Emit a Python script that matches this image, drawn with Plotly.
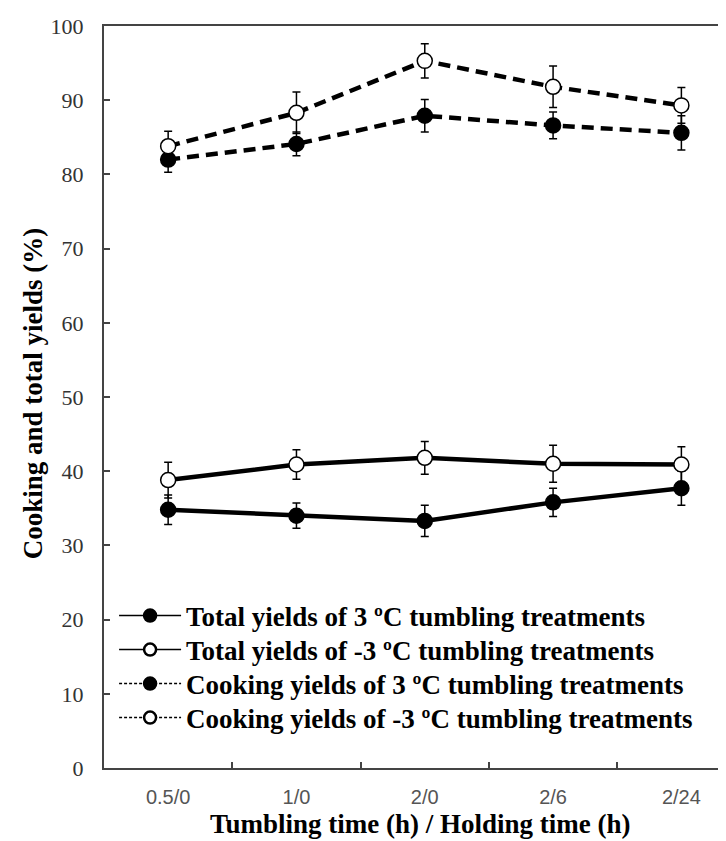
import plotly.graph_objects as go

categories = ["0.5/0", "1/0", "2/0", "2/6", "2/24"]

total_3 = [34.8, 34.0, 33.3, 35.8, 37.7]
total_3_err = [2.0, 1.7, 2.1, 1.9, 2.3]
total_m3 = [38.8, 40.9, 41.8, 41.0, 40.9]
total_m3_err = [2.4, 2.0, 2.2, 2.5, 2.4]
cook_3 = [82.0, 84.1, 87.9, 86.6, 85.6]
cook_3_err = [1.7, 1.6, 2.2, 1.8, 2.3]
cook_m3 = [83.8, 88.3, 95.3, 91.8, 89.3]
cook_m3_err = [2.0, 2.8, 2.3, 2.8, 2.4]

names = [
    "Total yields of 3 \u00baC tumbling treatments",
    "Total yields of -3 \u00baC tumbling treatments",
    "Cooking yields of 3 \u00baC tumbling treatments",
    "Cooking yields of -3 \u00baC tumbling treatments",
]

series = [
    (total_3, total_3_err, "black", "solid"),
    (total_m3, total_m3_err, "white", "solid"),
    (cook_3, cook_3_err, "black", "12px,7px"),
    (cook_m3, cook_m3_err, "white", "12px,7px"),
]

fig = go.Figure()
for vals, errs, fill, dash in series:
    fig.add_trace(go.Scatter(
        x=categories, y=vals, mode="lines+markers", showlegend=False,
        line=dict(color="black", width=4.5, dash=dash),
        marker=dict(symbol="circle", size=15, color=fill, line=dict(color="black", width=1.5)),
        error_y=dict(type="data", array=errs, visible=True, color="black", thickness=1.5, width=4),
    ))

legend_ids = ["legend", "legend2", "legend3", "legend4"]
legend_dash = ["solid", "solid", "3px,2px", "3px,2px"]
for name, (vals, errs, fill, dash), ld, lid in zip(names, series, legend_dash, legend_ids):
    fig.add_trace(go.Scatter(
        x=[None], y=[None], mode="lines+markers", name=name, legend=lid,
        line=dict(color="black", width=1.5, dash=ld),
        marker=dict(symbol="circle", size=12, color=fill, line=dict(color="black", width=2.5)),
    ))

legend_font = dict(family="Liberation Serif", size=27, color="black", weight="bold")
legend_y = [0.2049, 0.159, 0.1132, 0.0674]
legend_layout = {}
for lid, ly in zip(legend_ids, legend_y):
    legend_layout[lid] = dict(
        x=0.016, y=ly, xanchor="left", yanchor="middle",
        bgcolor="rgba(0,0,0,0)", itemwidth=62, font=legend_font,
    )

fig.update_layout(
    width=726, height=841,
    margin=dict(l=96, r=0, t=18, b=81),
    paper_bgcolor="white", plot_bgcolor="white",
    showlegend=True,
    xaxis=dict(
        type="category", range=[-0.5, 4.41],
        showline=True, linecolor="#444", linewidth=2, mirror=True,
        ticks="inside", ticklen=6, tickcolor="#444", tickwidth=1.5,
        tickson="boundaries", showgrid=False, zeroline=False,
        tickfont=dict(family="Liberation Sans", size=20, color="#555"),
        ticklabelstandoff=10,
    ),
    yaxis=dict(
        range=[0, 100], dtick=10,
        showline=True, linecolor="#444", linewidth=2, mirror=False,
        ticks="inside", ticklen=6, tickcolor="#444", tickwidth=1.5,
        showgrid=False, zeroline=False,
        tickfont=dict(family="Liberation Serif", size=22, color="#333"),
        ticklabelstandoff=14,
    ),
    annotations=[
        dict(text="<b>Tumbling time (h) / Holding time (h)</b>", xref="paper", yref="paper",
             x=0.502, y=-0.0755, xanchor="center", yanchor="middle", showarrow=False,
             font=dict(family="Liberation Serif", size=27, color="black")),
        dict(text="<b>Cooking and total yields (%)</b>", xref="paper", yref="paper",
             x=-0.1127, y=0.505, xanchor="center", yanchor="middle", showarrow=False, textangle=-90,
             font=dict(family="Liberation Serif", size=27, color="black")),
    ],
    **legend_layout,
)

fig.write_html("out.html")
